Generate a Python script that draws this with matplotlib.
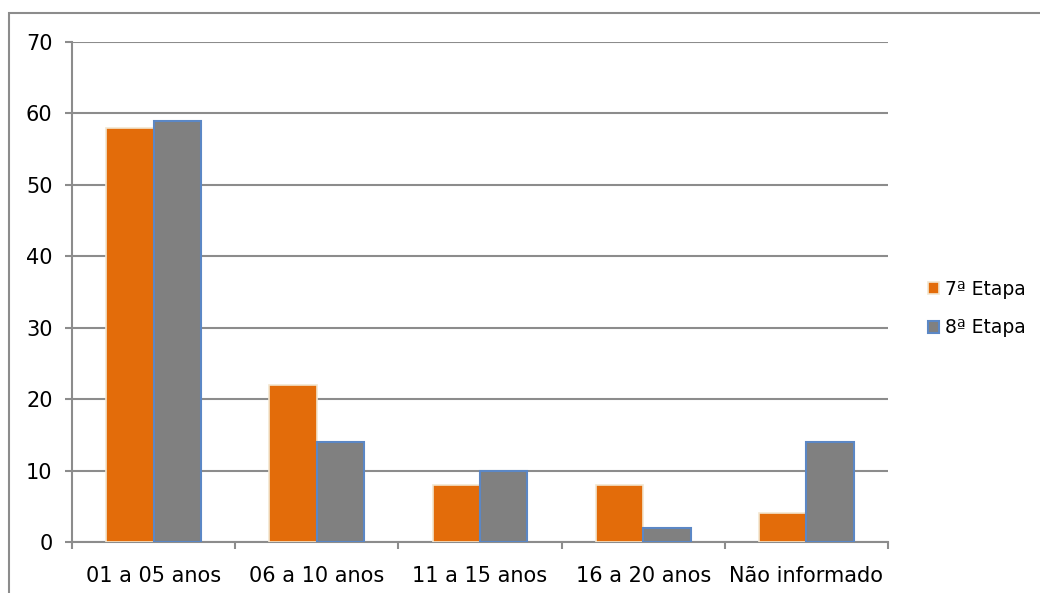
import numpy as np
import matplotlib.pyplot as plt
from matplotlib.patches import Rectangle, Patch

plt.rcParams['font.family'] = ['DejaVu Sans']

categorias = ["01 a 05 anos", "06 a 10 anos", "11 a 15 anos", "16 a 20 anos", "Não informado"]
etapa7 = [58, 22, 8, 8, 4]
etapa8 = [59, 14, 10, 2, 14]
series = ["7ª Etapa", "8ª Etapa"]

cor_laranja = "#E36C0A"
cor_cinza = "#808080"
cor_grade = "#8C8C8C"

fig = plt.figure(figsize=(10.4, 5.93), dpi=100)
ax = fig.add_axes([72/1040, 1 - 542/593, (888 - 72)/1040, (542 - 42)/593])

x = np.arange(len(categorias))
w = 0.29
ax.bar(x - w/2, etapa7, width=w, color=cor_laranja, edgecolor="#F2E6D0", linewidth=1.2, zorder=3)
ax.bar(x + w/2, etapa8, width=w, color=cor_cinza, edgecolor="#5B87C5", linewidth=1.5, zorder=3)

ax.set_xlim(-0.5, len(categorias) - 0.5)
ax.set_ylim(0, 70)
yt = list(range(0, 71, 10))
ax.set_yticks(yt)
ax.set_yticklabels([str(v) for v in yt], fontsize=15)
ax.yaxis.grid(True, color=cor_grade, linewidth=1.5, zorder=0)
ax.set_axisbelow(True)

# category ticks sit on the boundaries between groups
ax.set_xticks(np.arange(-0.5, len(categorias)))
ax.set_xticklabels([])
ax.set_xticks(x, minor=True)
ax.set_xticklabels(categorias, minor=True, fontsize=15)
ax.tick_params(axis='x', which='major', length=5, width=1.5, color=cor_grade, direction='out')
ax.tick_params(axis='x', which='minor', length=0, pad=17)
ax.tick_params(axis='y', length=5, width=1.5, color=cor_grade, pad=9)

for s in ['top', 'right']:
    ax.spines[s].set_visible(False)
for s in ['left', 'bottom']:
    ax.spines[s].set_color(cor_grade)
    ax.spines[s].set_linewidth(1.5)

handles = [Patch(facecolor=cor_laranja, edgecolor="#F2E6D0", linewidth=1.2),
           Patch(facecolor=cor_cinza, edgecolor="#5B87C5", linewidth=1.5)]
fig.legend(handles, series, loc='center left', bbox_to_anchor=(0.876, 0.48),
           frameon=False, fontsize=13.5, handlelength=0.6, handleheight=0.6,
           handletextpad=0.3, labelspacing=1.05)

# outer chart frame
fig.patches.append(Rectangle((9/1040, -0.1), 1.1, 1 - 13/593 + 0.1,
                             transform=fig.transFigure, fill=False,
                             edgecolor=cor_grade, linewidth=1.5))

fig.savefig("out.png", dpi=100)
